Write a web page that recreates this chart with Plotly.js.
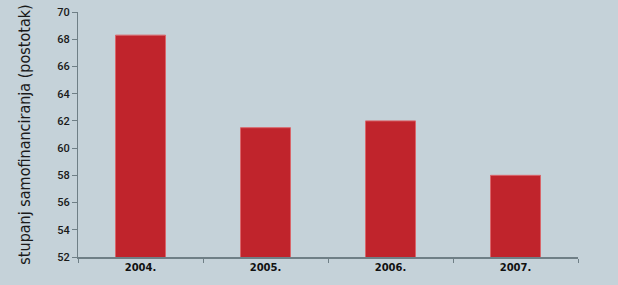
<!DOCTYPE html>
<html><head><meta charset="utf-8">
<script src="https://cdn.plot.ly/plotly-3.0.1.min.js"></script>
<style>html,body{margin:0;padding:0;background:#c5d2d9;}</style>
</head><body>
<div id="chart" style="width:618px;height:285px;"></div>
<script>
const years = ["2004.", "2005.", "2006.", "2007."];
const values = [68.3, 61.5, 62.0, 58.0];
const yTicks = [52, 54, 56, 58, 60, 62, 64, 66, 68, 70];
const yTitle = "stupanj samofinanciranja (postotak)";

Plotly.newPlot("chart", [{
  type: "bar",
  x: years,
  y: values,
  width: 0.4,
  marker: {color: "#c0242c", line: {color: "#d9666b", width: 1}},
  hoverinfo: "none"
}], {
  width: 618, height: 285,
  paper_bgcolor: "#c5d2d9",
  plot_bgcolor: "#c5d2d9",
  margin: {l: 78, r: 40, t: 12, b: 28},
  showlegend: false,
  bargap: 0.6,
  xaxis: {
    type: "category",
    tickson: "boundaries",
    ticks: "outside", ticklen: 4, tickcolor: "#6f7f86", tickwidth: 1,
    showline: true, linecolor: "#6f7f86", linewidth: 1.5,
    showgrid: false, zeroline: false,
    tickfont: {family: "DejaVu Sans", size: 10, color: "#111111", weight: "bold"}
  },
  yaxis: {
    range: [52, 70],
    tickvals: yTicks,
    ticktext: yTicks.map(String),
    ticks: "outside", ticklen: 5, tickcolor: "#6f7f86", tickwidth: 1,
    showline: true, linecolor: "#6f7f86", linewidth: 1,
    showgrid: false, zeroline: false,
    tickfont: {family: "Roboto", size: 11, color: "#1a1a1a", weight: 500},
    title: {text: yTitle, standoff: 22, font: {family: "DejaVu Sans Condensed", size: 16, color: "#1a1a1a"}}
  }
}, {displayModeBar: false, staticPlot: true});
</script>
</body></html>
